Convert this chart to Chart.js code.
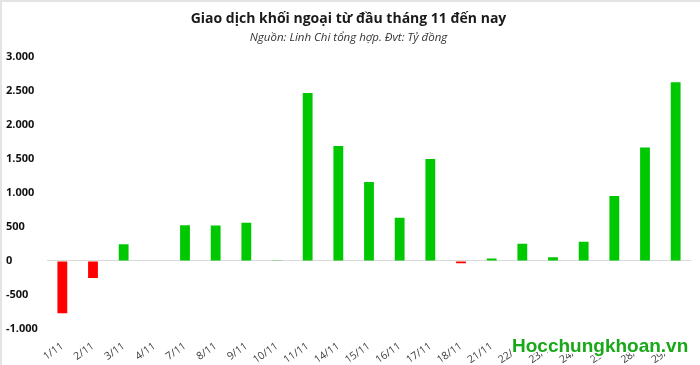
<!DOCTYPE html>
<html>
<head>
<meta charset="utf-8">
<script src="https://cdn.jsdelivr.net/npm/chart.js@4/dist/chart.umd.min.js"></script>
<style>
  html, body { margin: 0; padding: 0; background: #fff; }
  #wrap { width: 700px; height: 365px; position: relative; }
</style>
</head>
<body>
<div id="wrap"><canvas id="chart"></canvas></div>
<script>
// ngay giao dich thang 11
var days = ["1/11", "2/11", "3/11", "4/11", "7/11", "8/11", "9/11", "10/11", "11/11", "14/11",
  "15/11", "16/11", "17/11", "18/11", "21/11", "22/11", "23/11", "24/11", "25/11", "28/11", "29/11"]
// gia tri mua/ban rong, ty dong
var netValues = [-770, -250, 245, -10, 522, 520, 560, 10, 2465, 1688,
  1160, 634, 1498, -35, 35, 253, 54, 283, 952, 1665, 2625]
var yTicks = [-1000, -500, 0, 500, 1000, 1500, 2000, 2500, 3000]

var titleText = "Giao dịch khối ngoại từ đầu tháng 11 đến nay"
var subText = "Nguồn: Linh Chi tổng hợp. Đvt: Tỷ đồng"
var watermark = "Hocchungkhoan.vn"

const greenColor = "#00c800"
const redColor = "#ff0000"

function fmt(v){
  // 3000 -> 3.000
  var s = Math.abs(v).toString().replace(/\B(?=(\d{3})+(?!\d))/g, ".")
  return (v < 0 ? "-" : "") + s
}

var framePlugin = {
  id: "frame",
  beforeDraw: function(c){
    var ctx = c.ctx
    ctx.save()
    ctx.fillStyle = "#fff"
    ctx.fillRect(0, 0, c.width, c.height)
    ctx.fillStyle = "#e4e4e4"
    ctx.fillRect(0, 0, c.width, 2)
    ctx.fillRect(0, 0, 2, c.height)
    ctx.restore()
  },
  afterDraw: function(c){
    var ctx = c.ctx
    ctx.save()
    ctx.font = "bold 19px 'Liberation Sans', Arial"
    ctx.textBaseline = "alphabetic"
    ctx.lineJoin = "round"
    ctx.strokeStyle = "#fff"
    ctx.lineWidth = 4
    ctx.strokeText(watermark, 512, 352)
    ctx.fillStyle = "#18a818"
    ctx.fillText(watermark, 512, 352)
    ctx.restore()
  }
}

var ctx = document.getElementById("chart").getContext("2d")
var chart = new Chart(ctx, {
  type: "bar",
  data: {
    labels: days,
    datasets: [{
      label: "Giá trị ròng",
      data: netValues,
      backgroundColor: netValues.map(function(v){ return v < 0 ? redColor : greenColor }),
      barPercentage: 0.32,
      categoryPercentage: 1
    }]
  },
  options: {
    responsive: true,
    maintainAspectRatio: false,
    animation: false,
    layout: { padding: { left: 6, right: 9, top: 0, bottom: 0 } },
    plugins: {
      legend: { display: false },
      tooltip: { enabled: false },
      title: {
        display: true,
        text: titleText,
        color: "#1a1a1a",
        font: { family: "'Open Sans'", size: 14, weight: "bold" },
        padding: { top: 11, bottom: 3 }
      },
      subtitle: {
        display: true,
        text: subText,
        color: "#333",
        font: { family: "'Open Sans'", size: 11.5, style: "italic" },
        padding: { top: 0, bottom: 12 }
      }
    },
    scales: {
      x: {
        grid: { display: false },
        border: { display: false },
        ticks: {
          color: "#404040",
          font: { family: "'Open Sans'", size: 10.5 },
          minRotation: 35,
          maxRotation: 35,
          autoSkip: false,
          padding: 3
        },
        afterFit: function(s){ s.height = 36 }
      },
      y: {
        min: -1000,
        max: 3000,
        afterBuildTicks: function(s){ s.ticks = yTicks.map(function(v){ return { value: v } }) },
        grid: {
          drawTicks: false,
          color: function(c){ return c.tick && c.tick.value === 0 ? "#d9d9d9" : "rgba(0,0,0,0)" }
        },
        border: { display: false },
        ticks: {
          color: "#111",
          crossAlign: "far",
          padding: 4,
          font: { family: "'Open Sans'", size: 11, weight: "bold" },
          callback: function(v){ return fmt(v) }
        },
        afterFit: function(s){ s.width = 41 }
      }
    }
  },
  plugins: [framePlugin]
})
</script>
</body>
</html>
